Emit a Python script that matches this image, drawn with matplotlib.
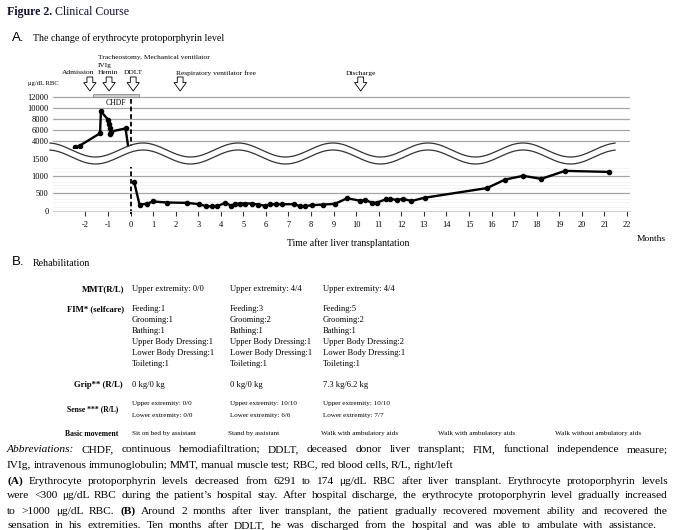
import numpy as np
import matplotlib.pyplot as plt

# erythrocyte protoporphyrin (ug/dL RBC), months after transplant
pre_month = [-2.45, -2.25, -1.35, -1.31, -0.98, -0.94, -0.92, -0.90, -0.88, -0.22, -0.05]
pre_value = [2900, 3150, 5400, 9400, 7800, 7000, 6400, 5200, 5700, 6291, 1500]
post_month = [0.16, 0.4, 0.73, 1.0, 1.6, 2.5, 3.05, 3.35, 3.6, 3.85, 4.2, 4.45, 4.65, 4.85,
              5.07, 5.38, 5.65, 5.95, 6.2, 6.46, 6.72, 7.25, 7.52, 7.73, 8.02, 8.53, 9.05,
              9.6, 10.15, 10.4, 10.7, 10.9, 11.3, 11.5, 11.8, 12.08, 12.45, 13.03, 15.8,
              16.6, 17.4, 18.2, 19.25, 21.2]
post_value = [840, 174, 200, 265, 235, 225, 185, 125, 125, 130, 225, 145, 195, 205,
              205, 205, 175, 140, 185, 185, 185, 185, 125, 130, 155, 175, 195,
              360, 290, 310, 230, 230, 325, 340, 310, 340, 280, 375, 660,
              910, 1020, 930, 1165, 1135]
upper_ticks = [4000, 6000, 8000, 10000, 12000]
lower_ticks = [0, 500, 1000, 1500]
lower_grid = [500, 1000]
month_ticks = list(range(-2, 23))
chdf_span = (-1.67, 0.37)

events = [  # (month, label, label x-anchor)
    (-1.8, 'Admission', 'right'),
    (-0.95, 'IVIg\nHemin', 'left'),
    (0.12, 'DDLT', 'center'),
    (2.2, 'Respiratory ventilator free', 'left'),
    (10.2, 'Discharge', 'center'),
]

mmt = ['Upper extremity: 0/0', 'Upper extremity: 4/4', 'Upper extremity: 4/4']
fim = [['Feeding:1', 'Grooming:1', 'Bathing:1', 'Upper Body Dressing:1', 'Lower Body Dressing:1', 'Toileting:1'],
       ['Feeding:3', 'Grooming:2', 'Bathing:1', 'Upper Body Dressing:1', 'Lower Body Dressing:1', 'Toileting:1'],
       ['Feeding:5', 'Grooming:2', 'Bathing:1', 'Upper Body Dressing:2', 'Lower Body Dressing:1', 'Toileting:1']]
grip = ['0 kg/0 kg', '0 kg/0 kg', '7.3 kg/6.2 kg']
sense = [['Upper extremity: 0/0', 'Lower extremity: 0/0'],
         ['Upper extremity: 10/10', 'Lower extremity: 6/6'],
         ['Upper extremity: 10/10', 'Lower extremity: 7/7']]
basic = ['Sit on bed by assistant', 'Stand by assistant', 'Walk with ambulatory aids',
         'Walk with ambulatory aids', 'Walk without ambulatory aids']

caption = [
    [('Abbreviations:', 'italic'), ('CHDF, continuous hemodiafiltration; DDLT, deceased donor liver transplant; FIM, functional independence measure;', 'normal')],
    [('IVIg, intravenous immunoglobulin; MMT, manual muscle test; RBC, red blood cells, R/L, right/left', 'normal')],
    [('(A)', 'bold'), ('Erythrocyte protoporphyrin levels decreased from 6291 to 174 \u03bcg/dL RBC after liver transplant. Erythrocyte protoporphyrin levels', 'normal')],
    [('were <300 \u03bcg/dL RBC during the patient\u2019s hospital stay. After hospital discharge, the erythrocyte protoporphyrin level gradually increased', 'normal')],
    [('to >1000 \u03bcg/dL RBC.', 'normal'), ('(B)', 'bold'), ('Around 2 months after liver transplant, the patient gradually recovered movement ability and recovered the', 'normal')],
    [('sensation in his extremities. Ten months after DDLT, he was discharged from the hospital and was able to ambulate with assistance.', 'normal')],
]
caption_right = [668, None, 668, 668, 668, 657]  # None -> not justified

W, H = 676, 530
SERIF = 'Liberation Serif'
plt.rcParams['font.family'] = SERIF

fig = plt.figure(figsize=(W / 100, H / 100), dpi=100)
r = fig.canvas.get_renderer()


def box(x0, y0, x1, y1):
    return [x0 / W, 1 - y1 / H, (x1 - x0) / W, (y1 - y0) / H]


def T(x, y, s, **kw):
    kw.setdefault('va', 'center')
    kw.setdefault('fontsize', 6.1)
    return fig.text(x / W, 1 - y / H, s, **kw)


# pixel -> month mapping of the reference layout
m0, mpx = 130.5, 22.57
xlim = ((53 - m0) / mpx, (630 - m0) / mpx)

# ---- upper panel
ax_up = fig.add_axes(box(53, 91, 630, 148))
ax_up.set_xlim(*xlim)
ax_up.set_ylim(2727, 13091)
for v in upper_ticks:
    ax_up.axhline(v, color='#a6a6a6', lw=0.9, zorder=1)
ax_up.plot(pre_month, pre_value, color='black', lw=1.7, marker='o', ms=3,
           markevery=list(range(len(pre_month) - 1)), zorder=3)
ax_up.barh(12270, chdf_span[1] - chdf_span[0], left=chdf_span[0], height=560,
           color='#cacaca', edgecolor='#8a8a8a', lw=0.6, zorder=2)
ax_up.text(-0.66, 10950, 'CHDF', ha='center', va='center', fontsize=5.6)
ax_up.plot([0, 0], [11640, 2727], color='black', lw=1.3, ls=(0, (2.6, 1.6)), zorder=2)
ax_up.set_yticks(upper_ticks)
ax_up.set_yticklabels([str(v) for v in upper_ticks], fontsize=6)
ax_up.tick_params(axis='y', length=0, pad=3.2)
ax_up.set_xticks([])
for s in ax_up.spines.values():
    s.set_visible(False)
ax_up.patch.set_visible(False)


def yax(py):  # pixel row -> axes fraction of upper panel
    return (148 - py) / 57


tr = ax_up.get_xaxis_transform()
for m, lab, ha in events:
    ax_up.annotate('', xy=(m, yax(91)), xytext=(m, yax(77)), xycoords=tr, textcoords=tr,
                   annotation_clip=False,
                   arrowprops=dict(arrowstyle='simple,head_length=0.55,head_width=0.8,tail_width=0.38',
                                   fc='white', ec='black', lw=0.6, mutation_scale=11,
                                   shrinkA=0, shrinkB=0))
    if lab.startswith('IVIg'):
        ax_up.text(-1.43, yax(73), 'Hemin', transform=tr, ha='left', va='center', fontsize=5.4)
        ax_up.text(-1.43, yax(66), 'IVIg', transform=tr, ha='left', va='center', fontsize=5.4)
        continue
    xl = m + (0.2 if ha == 'right' else 0) - (0.18 if ha == 'left' else 0)
    ax_up.text(xl, yax(73), lab, transform=tr, ha=ha, va='center', fontsize=5.4, clip_on=False)
ax_up.text(-1.44, yax(57), 'Tracheostomy, Mechanical ventilator', transform=tr,
           ha='left', va='center', fontsize=5.4)
T(28, 83, '\u03bcg/dL RBC', ha='left', fontsize=4.8)

# ---- lower panel
ax_lo = fig.add_axes(box(53, 155, 630, 210.5))
ax_lo.set_xlim(*xlim)
ax_lo.set_ylim(0, 1632)
for v in [100, 250, 350, 650, 750, 850, 1150, 1250]:
    ax_lo.axhline(v, color='#f1f1f1', lw=0.6, zorder=0)
for v in lower_grid:
    ax_lo.axhline(v, color='#a6a6a6', lw=0.9, zorder=1)
ax_lo.plot(post_month, post_value, color='black', lw=1.7, marker='o', ms=3, zorder=3)
ax_lo.plot([0, 0], [-103, 1279], color='black', lw=1.3, ls=(0, (2.6, 1.6)), zorder=2, clip_on=False)
ax_lo.set_yticks(lower_ticks)
ax_lo.set_yticklabels([str(v) for v in lower_ticks], fontsize=6)
ax_lo.set_xticks(month_ticks)
ax_lo.set_xticklabels([str(v) for v in month_ticks], fontsize=6)
ax_lo.tick_params(axis='y', length=0, pad=3.2)
ax_lo.tick_params(axis='x', length=3.6, width=0.8, color='#333333', pad=4)
for k in ['top', 'left', 'right']:
    ax_lo.spines[k].set_visible(False)
ax_lo.spines['bottom'].set_color('#d0d0d0')
ax_lo.spines['bottom'].set_linewidth(0.8)
ax_lo.patch.set_visible(False)

# ---- axis break wave
ax_w = fig.add_axes(box(53, 138, 630, 170))
ax_w.set_xlim(*xlim)
ax_w.set_ylim(170, 138)
ax_w.axis('off')
wm = np.linspace((50 - m0) / mpx, (615 - m0) / mpx, 400)
phase = 2 * np.pi * (m0 + mpx * wm - 143) / 95
wy1 = 150 - 7 * np.cos(phase)
wy2 = wy1 + 7
ax_w.fill_between(wm, wy1, wy2, color='white', lw=0, clip_on=False)
ax_w.plot(wm, wy1, color='#333333', lw=0.9, clip_on=False)
ax_w.plot(wm, wy2, color='#333333', lw=0.9, clip_on=False)

T(348, 243, 'Time after liver transplantation', ha='center', fontsize=7)
T(651, 239, 'Months', ha='center', fontsize=6.8)

# ---- headings
fig_lab = T(7, 12, 'Figure 2.', ha='left', fontsize=8.6, fontweight='bold', color='#111133')
T(7 + fig_lab.get_window_extent(r).width + 3, 12, 'Clinical Course', ha='left', fontsize=8.6, color='#111133')
T(12, 38, 'A.', ha='left', fontsize=9.5, family='Liberation Sans')
T(33, 38, 'The change of erythrocyte protoporphyrin level', ha='left', fontsize=7.2)
T(12, 262, 'B.', ha='left', fontsize=9.5, family='Liberation Sans')
T(33, 263, 'Rehabilitation', ha='left', fontsize=7.2)

# ---- rehabilitation table
cols = [132, 230, 323]
T(124, 289, 'MMT(R/L)', ha='right', fontweight='bold', fontsize=6.2)
T(124, 309, 'FIM* (selfcare)', ha='right', fontweight='bold', fontsize=6.2)
T(123, 385, 'Grip** (R/L)', ha='right', fontweight='bold', fontsize=6.2)
T(118, 409, 'Sense *** (R/L)', ha='right', fontweight='bold', fontsize=5.5)
T(118, 434, 'Basic movement', ha='right', fontweight='bold', fontsize=5.5)
for i, x in enumerate(cols):
    T(x, 289, mmt[i], ha='left')
    for j, item in enumerate(fim[i]):
        T(x, 309 + 11 * j, item, ha='left')
    T(x, 385, grip[i], ha='left')
    T(x, 404, sense[i][0], ha='left', fontsize=5.1)
    T(x, 415, sense[i][1], ha='left', fontsize=5.1)
for x, s in zip([132, 228, 321, 438, 555], basic):
    T(x, 434, s, ha='left', fontsize=5.1)

# ---- caption, justified
styles = {'normal': {}, 'italic': {'style': 'italic'}, 'bold': {'fontweight': 'bold'}}
cap_y = [450, 465, 481, 496, 511, 526]
for line, y, right in zip(caption, cap_y, caption_right):
    words = []
    for seg, st in line:
        for w in seg.split(' '):
            words.append(T(0, y, w, ha='left', fontsize=8.2, **styles[st]))
    widths = [t.get_window_extent(r).width for t in words]
    gap = (right - 7 - sum(widths)) / (len(words) - 1) if right else 2.3
    x = 7
    for t, w in zip(words, widths):
        t.set_x(x / W)
        x += w + gap

fig.savefig('out.png', dpi=100, facecolor='white')
